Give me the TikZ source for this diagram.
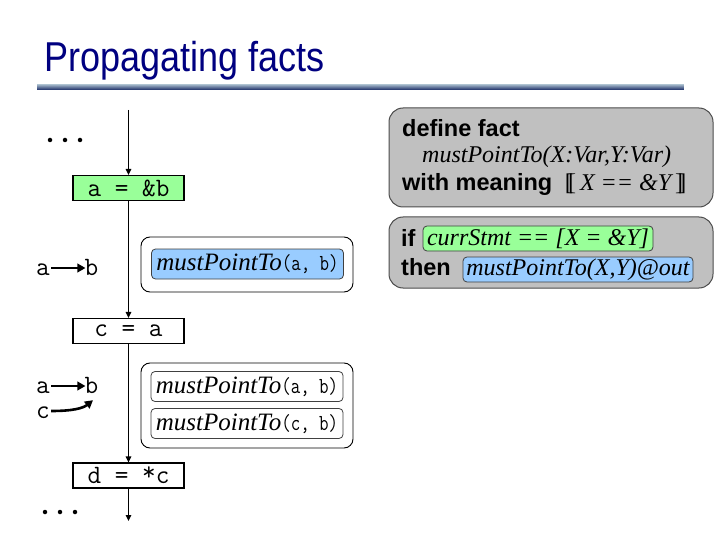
\documentclass[tikz,border=0pt]{standalone}
\usepackage{fontspec}
\setmainfont{Liberation Serif}
\setsansfont{Liberation Sans}
\usetikzlibrary{arrows.meta}
\definecolor{titleblue}{RGB}{0,0,128}
\definecolor{stmtgreen}{RGB}{153,255,153}
\definecolor{factblue}{RGB}{153,204,255}
\definecolor{boxgray}{RGB}{192,192,192}
\definecolor{rulelight}{RGB}{176,196,210}
\definecolor{ruledark}{RGB}{48,66,118}
\newcommand{\monof}{\ttfamily\addfontfeatures{FakeBold=2}}
\newcommand{\dbl}{\mbox{[\kern-0.2em[}}
\newcommand{\dbr}{\mbox{]\kern-0.2em]}}
\newcommand{\mpt}{\textit{mustPointTo}}
\newcommand{\argtt}[1]{\scalebox{0.8}[1]{\fontsize{23}{24}\selectfont\monof #1}}
\tikzset{
  stmtbox/.style={draw, line width=1.2pt, minimum width=111, minimum height=25, inner sep=0,
    font=\fontsize{26.5}{27}\selectfont\monof},
  flow/.style={line width=1.3pt, -{Triangle[length=6pt,width=5.5pt]}},
  ptr/.style={line width=2.6pt, -{Triangle[length=8pt,width=8.5pt]}},
  varname/.style={inner sep=0, anchor=base, text height=14, text depth=0,
    font=\fontsize{26.5}{27}\selectfont\monof},
  dotnode/.style={circle, fill=black, inner sep=0, minimum size=4.5},
  factouter/.style={draw, line width=0.9pt, rounded corners=9, fill=white, inner sep=0},
  factinner/.style={draw, line width=0.8pt, draw=black!75, rounded corners=4, inner sep=0,
    minimum width=192, minimum height=30, font=\fontsize{25}{26}\selectfont},
  graybox/.style={draw=black!70, line width=1pt, fill=boxgray, rounded corners=14,
    minimum width=324, inner sep=0},
  rtext/.style={anchor=base west, inner sep=0},
  bsans/.style={font=\sffamily\bfseries\fontsize{23.5}{25}\selectfont},
  itserif/.style={font=\itshape\fontsize{24}{25}\selectfont},
  rinner/.style={draw=black!75, line width=0.8pt, rounded corners=4, inner sep=0,
    minimum width=230, minimum height=25, font=\itshape\fontsize{24}{25}\selectfont}
}
\begin{document}
\begin{tikzpicture}[x=1pt,y=-1pt]
\useasboundingbox (0,0) rectangle (720,540);
\fill[white] (0,0) rectangle (720,540);

% title
\node[anchor=base west, inner sep=0, text=titleblue,
  font=\sffamily\fontsize{36}{40}\selectfont] (title) at (44,72)
  {\scalebox{1}[1.16]{Propagating facts}};
\foreach \i in {0,...,5}{
  \pgfmathtruncatemacro\p{100-\i*20}
  \fill[rulelight!\p!ruledark] (37,84+\i) rectangle (684,85+\i);
}

% flow graph
\coordinate (top) at (128.5,110);
\node[stmtbox, fill=stmtgreen] (s1) at (128.5,188) {a = \&b};
\node[stmtbox, fill=white] (s2) at (128.5,331) {c = a};
\node[stmtbox, fill=white] (s3) at (128.5,475.5) {d = \raisebox{3pt}{*}c};
\coordinate (bot) at (128.5,521);
\draw[flow] (top) -- (s1);
\draw[flow] (s1) -- (s2);
\draw[flow] (s2) -- (s3);
\draw[flow] (s3) -- (bot);

% dots
\node[dotnode] (d1) at (50,140) {};
\node[dotnode] (d2) at (65,140) {};
\node[dotnode] (d3) at (80,140) {};
\node[dotnode] (d4) at (45,512) {};
\node[dotnode] (d5) at (60,512) {};
\node[dotnode] (d6) at (75,512) {};

% points-to graph 1
\node[varname] (a1) at (43,275) {a};
\node[varname] (b1) at (91.5,275) {b};
\draw[ptr] ([xshift=1]a1.east) -- ([xshift=1]b1.west);

% points-to graph 2
\node[varname] (a2) at (43,393) {a};
\node[varname] (b2) at (91.5,393) {b};
\node[varname] (c2) at (43,418) {c};
\draw[ptr] ([xshift=1]a2.east) -- ([xshift=1]b2.west);
\draw[ptr] ([xshift=1]c2.east) .. controls +(22,0) and +(-10,8) .. ([xshift=1.5,yshift=-7]b2.south);

% fact boxes
\node[factouter, minimum width=212, minimum height=55] (fo1) at (247,264.5) {};
\node[factinner, fill=factblue] (fi1) at (247.5,264) {\mpt\argtt{(a, b)}};
\node[factouter, minimum width=212, minimum height=85] (fo2) at (247,405.5) {};
\node[factinner, fill=white] (fi2) at (247,386.5) {\mpt\argtt{(a, b)}};
\node[factinner, fill=white] (fi3) at (247,423.5) {\mpt\argtt{(c, b)}};

% right boxes
\node[graybox, minimum height=99] (g1) at (551,157.5) {};
\node[rtext, bsans] (t1) at (402,137) {define fact};
\node[rtext, itserif] (t2) at (422,163) {mustPointTo(X:Var,Y:Var)};
\node[rtext, bsans] (t3) at (402,191) {with meaning
  {\fontsize{24}{25}\selectfont\rmfamily\mdseries\ \dbl\,\itshape X == \&Y\,\upshape\dbr}};

\node[graybox, minimum height=71] (g2) at (551,252.5) {};
\node[rtext, bsans] (t4) at (401,247) {if};
\node[rinner, fill=stmtgreen] (r1) at (538,238.5) {currStmt == [X = \&Y]};
\node[rtext, bsans] (t5) at (401,275) {then};
\node[rinner, fill=factblue] (r2) at (578,269.5) {mustPointTo(X,Y)@out};
\end{tikzpicture}
\end{document}
